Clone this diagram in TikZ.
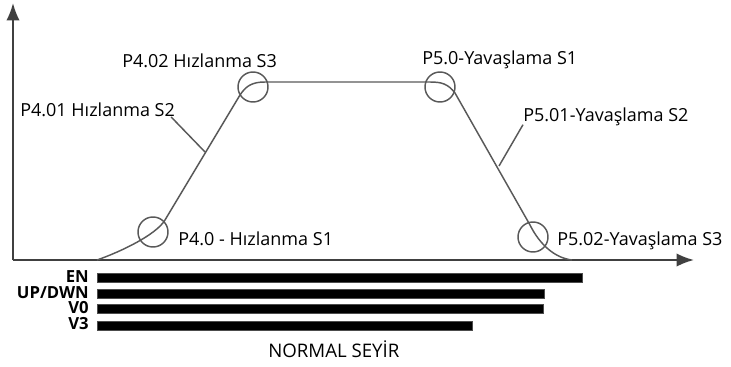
\documentclass[tikz,border=0pt]{standalone}
\usepackage{fontspec}
\setmainfont{Open Sans}
\usetikzlibrary{arrows.meta}

\begin{document}
\begin{tikzpicture}[x=0.75pt,y=-0.75pt,
  axis/.style={draw=black!75,line width=1.5pt,-{Latex[length=13pt,width=10pt]}},
  curve/.style={draw=black!65,line width=1.1pt},
  ring/.style={circle,draw=black!65,line width=1.1pt,minimum size=22.5pt,inner sep=0pt},
  lbl/.style={font=\fontsize{13.5}{15}\selectfont,inner sep=0pt},
  sig/.style={font=\bfseries\fontsize{12.5}{14}\selectfont,inner sep=0pt,anchor=base east},
  bar/.style={fill=black,draw=black!70,line width=0.4pt}]
  \useasboundingbox (0,0) rectangle (731,367);
  % axes
  \coordinate (O)  at (13,260);
  \coordinate (Yt) at (13,3);
  \coordinate (Xt) at (694,260);
  \draw[axis] (O) -- (Yt);
  \draw[axis] (O) -- (Xt);
  % speed profile
  \coordinate (st) at (97,260);
  \coordinate (a1) at (165,220);
  \coordinate (a2) at (240,95);
  \coordinate (t1) at (265,82);
  \coordinate (t2) at (430,82);
  \coordinate (d1) at (455,93);
  \coordinate (d2) at (530,225);
  \coordinate (en) at (572,260);
  \draw[curve] (st) .. controls (120,252) and (156,235) .. (a1) -- (a2)
    .. controls (246,86) and (252,82) .. (t1) -- (t2)
    .. controls (442,82) and (448,84) .. (d1) -- (d2)
    .. controls (540,245) and (555,258) .. (en);
  % marker rings
  \node[ring] (r40)  at (153,232) {};
  \node[ring] (r402) at (253,87)  {};
  \node[ring] (r50)  at (440,87)  {};
  \node[ring] (r502) at (533,237) {};
  % labels
  \node[lbl,anchor=base west] (p402) at (122,68)  {P4.02 Hızlanma S3};
  \node[lbl,anchor=base west] (p401) at (20,117)  {P4.01 Hızlanma S2};
  \node[lbl,anchor=base west] (p40)  at (178,245) {P4.0 - Hızlanma S1};
  \node[lbl,anchor=base west] (p50)  at (422,65)  {P5.0-Yavaşlama S1};
  \node[lbl,anchor=base west] (p501) at (523,122) {P5.01-Yavaşlama S2};
  \node[lbl,anchor=base west] (p502) at (557,245) {P5.02-Yavaşlama S3};
  % leaders
  \coordinate (s2) at (205,152);
  \coordinate (y2) at (499,166);
  \draw[curve] ([xshift=-3pt]p401.base east) -- (s2);
  \draw[curve] ([yshift=-2pt]p501.base west) -- (y2);
  % signals
  \node[sig] (sEN) at (89,282) {EN};
  \node[sig] (sUD) at (89,298) {UP/DWN};
  \node[sig] (sV0) at (89,313) {V0};
  \node[sig] (sV3) at (89,329) {V3};
  \filldraw[bar] (97,273) rectangle (582,282);
  \filldraw[bar] (97,289) rectangle (544,298);
  \filldraw[bar] (97,304) rectangle (543,313);
  \filldraw[bar] (97,321) rectangle (472,330);
  \node[lbl,anchor=base west,font=\fontsize{14}{16}\selectfont] (mode) at (268,357) {NORMAL SEYİR};
\end{tikzpicture}
\end{document}
